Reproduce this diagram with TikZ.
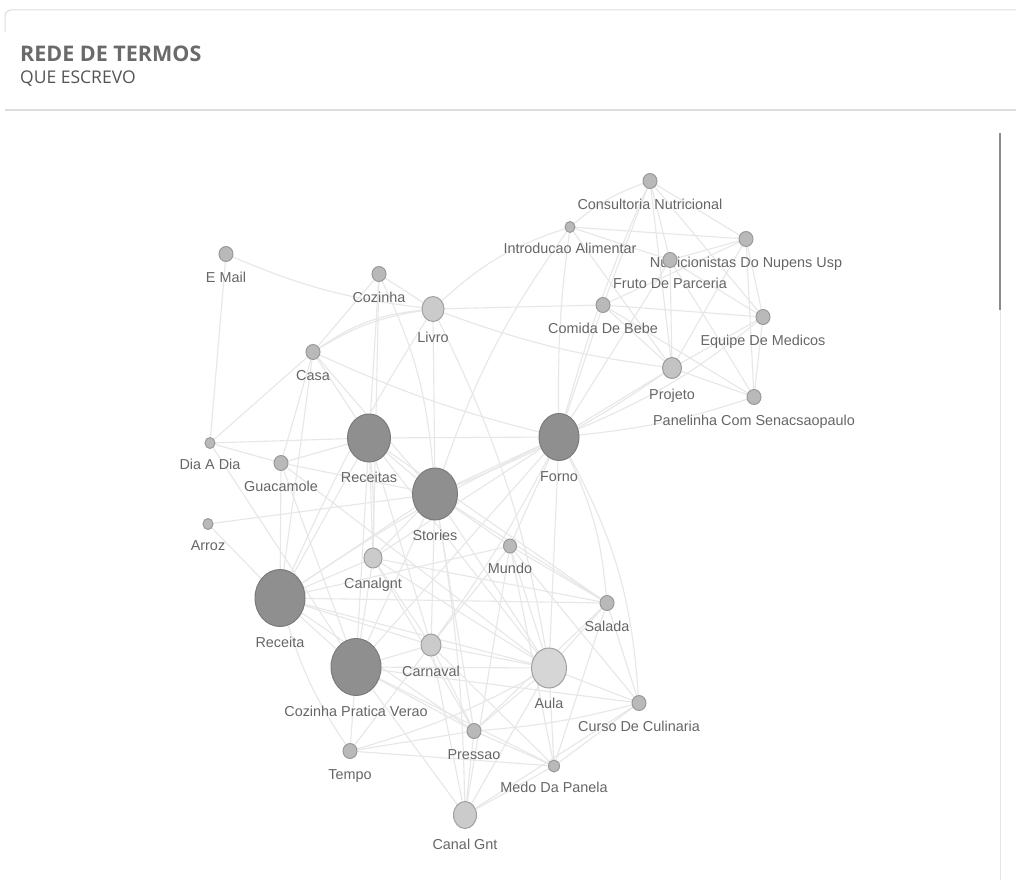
\documentclass[tikz,border=0pt]{standalone}
\usepackage{fontspec}
\setmainfont{Liberation Sans}
\newfontfamily\labfont{Liberation Sans}
\newfontfamily\headfont{Open Sans}
\usetikzlibrary{shapes.geometric,backgrounds}
\pgfdeclarelayer{bottomlayer}
\pgfsetlayers{bottomlayer,background,main}
\definecolor{smfill}{HTML}{B9B9B9}
\definecolor{smdraw}{HTML}{999999}
\definecolor{bigfill}{HTML}{8F8F8F}
\definecolor{bigdraw}{HTML}{7A7A7A}
\definecolor{ltfill}{HTML}{CBCBCB}
\definecolor{ltdraw}{HTML}{A0A0A0}
\definecolor{aulafill}{HTML}{D6D6D6}
\definecolor{labgray}{HTML}{666666}
\definecolor{edgec}{HTML}{E7E7E7}
\definecolor{headline}{HTML}{DDDDDD}
\definecolor{titlec}{HTML}{6A6A6A}
\definecolor{subc}{HTML}{555555}
\tikzset{
  lab/.style={font=\labfont\fontsize{14.4}{16}\selectfont, text=labgray, inner sep=0pt, text height=10pt, text depth=3pt},
  nd/.style={ellipse, inner sep=0pt, line width=1pt},
  sm/.style={nd, fill=smfill, draw=smdraw, minimum width=14pt, minimum height=15pt},
  xs/.style={nd, fill=smfill, draw=smdraw, minimum width=10pt, minimum height=11pt},
  big/.style={nd, fill=bigfill, draw=bigdraw},
  lt/.style={nd, fill=ltfill, draw=ltdraw},
  lb/.style={label={[lab,label distance=10pt]below:#1}},
  link/.style={draw=edgec, line width=1.1pt}
}
\begin{document}
\begin{tikzpicture}[x=1pt,y=-1pt]
\useasboundingbox (0,0) rectangle (1016,888);
\begin{pgfonlayer}{bottomlayer}
\fill[white] (0,0) rectangle (1016,888);
\end{pgfonlayer}
% header
\draw[headline, line width=1pt, rounded corners=6pt] (5,32) -- (5,10) -- (1016,10);
\draw[headline, line width=1.6pt] (5,110) -- (1016,110);
\node[anchor=base west, inner sep=0pt, text=titlec, font=\headfont\bfseries\fontsize{21.5}{24}\selectfont] (title) at (20,62) {REDE DE TERMOS};
\node[anchor=base west, inner sep=0pt, text=subc, font=\headfont\fontsize{17.5}{20}\selectfont] (subtitle) at (20,84) {QUE ESCREVO};
% scrollbar
\draw[color=black!45, line width=1.2pt] (1000,133) -- (1000,310);
\draw[color=black!10, line width=1pt] (1000,310) -- (1000,880);
% nodes
\node[sm, lb={Consultoria Nutricional}] (consult) at (650,181) {};
\node[xs, lb={Introducao Alimentar}] (intro) at (570,227) {};
\node[sm, lb={Nutricionistas Do Nupens Usp}] (nutri) at (746,239) {};
\node[sm, lb={Fruto De Parceria}] (fruto) at (670,260) {};
\node[sm, lb={Comida De Bebe}] (comida) at (603,305) {};
\node[sm, lb={Equipe De Medicos}] (equipe) at (763,317) {};
\node[nd, fill=smfill!85!white, draw=smdraw, minimum width=19pt, minimum height=21pt, lb={Projeto}] (projeto) at (672,368) {};
\node[sm, lb={Panelinha Com Senacsaopaulo}] (panelinha) at (754,397) {};
\node[sm, lb={E Mail}] (email) at (226,254) {};
\node[sm, lb={Cozinha}] (cozinha) at (379,274) {};
\node[lt, minimum width=22pt, minimum height=25pt, lb={Livro}] (livro) at (433,309) {};
\node[sm, lb={Casa}] (casa) at (313,352) {};
\node[xs, lb={Dia A Dia}] (diadia) at (210,443) {};
\node[sm, lb={Guacamole}] (guacamole) at (281,463) {};
\node[big, minimum width=43pt, minimum height=48pt, lb={Receitas}] (receitas) at (369,438) {};
\node[big, minimum width=45pt, minimum height=52pt, lb={Stories}] (stories) at (435,494) {};
\node[xs, lb={Arroz}] (arroz) at (208,524) {};
\node[lt, minimum width=18pt, minimum height=20pt, lb={Canalgnt}] (canalgnt) at (373,558) {};
\node[sm, minimum width=13pt, minimum height=14pt, lb={Mundo}] (mundo) at (510,546) {};
\node[big, minimum width=50pt, minimum height=57pt, lb={Receita}] (receita) at (280,598) {};
\node[big, minimum width=40pt, minimum height=47pt, lb={Forno}] (forno) at (559,437) {};
\node[sm, lb={Salada}] (salada) at (607,603) {};
\node[big, minimum width=50pt, minimum height=57pt, lb={Cozinha Pratica Verao}] (cpv) at (356,667) {};
\node[lt, minimum width=20pt, minimum height=22pt, lb={Carnaval}] (carnaval) at (431,645) {};
\node[nd, fill=aulafill, draw=ltdraw, minimum width=35pt, minimum height=40pt, lb={Aula}] (aula) at (549,668) {};
\node[sm, lb={Curso De Culinaria}] (curso) at (639,703) {};
\node[sm, lb={Pressao}] (pressao) at (474,731) {};
\node[sm, lb={Tempo}] (tempo) at (350,751) {};
\node[xs, minimum width=11pt, minimum height=12pt, lb={Medo Da Panela}] (medo) at (554,766) {};
\node[lt, minimum width=23pt, minimum height=27pt, lb={Canal Gnt}] (canalgnt2) at (465,815) {};
% edges
\begin{pgfonlayer}{background}
\path[link] (email) to[bend right=8] (livro);
\path[link] (email) -- (diadia);
\path[link] (casa) to[bend left=14] (livro);
\path[link] (casa) to[bend left=11] (livro);
\path[link] (casa) -- (cozinha);
\path[link] (casa) -- (diadia);
\path[link] (casa) -- (guacamole);
\path[link] (casa) -- (receita);
\path[link] (casa) -- (receitas);
\path[link] (casa) to[bend right=5] (forno);
\path[link] (casa) -- (stories);
\path[link] (cozinha) -- (receitas);
\path[link] (cozinha) -- (canalgnt);
\path[link] (cozinha) to[bend left=10] (stories);
\path[link] (cozinha) -- (livro);
\path[link] (livro) -- (comida);
\path[link] (comida) -- (equipe);
\path[link] (livro) to[bend left=12] (intro);
\path[link] (livro) -- (stories);
\path[link] (livro) to[bend right=6] (projeto);
\path[link] (livro) to[bend right=4] (receita);
\path[link] (livro) to[bend left=8] (aula);
\path[link] (intro) -- (nutri);
\path[link] (intro) -- (fruto);
\path[link] (intro) -- (projeto);
\path[link] (intro) to[bend right=4] (forno);
\path[link] (intro) to[bend left=10] (consult);
\path[link] (intro) to[bend right=8] (stories);
\path[link] (consult) -- (nutri);
\path[link] (consult) -- (fruto);
\path[link] (consult) -- (projeto);
\path[link] (consult) -- (equipe);
\path[link] (consult) to[bend right=4] (forno);
\path[link] (consult) -- (comida);
\path[link] (nutri) -- (equipe);
\path[link] (nutri) -- (panelinha);
\path[link] (nutri) -- (comida);
\path[link] (nutri) -- (projeto);
\path[link] (nutri) -- (fruto);
\path[link] (fruto) -- (projeto);
\path[link] (fruto) -- (forno);
\path[link] (fruto) -- (panelinha);
\path[link] (fruto) -- (equipe);
\path[link] (comida) -- (projeto);
\path[link] (comida) -- (forno);
\path[link] (comida) -- (panelinha);
\path[link] (equipe) -- (projeto);
\path[link] (equipe) -- (panelinha);
\path[link] (equipe) to[bend left=8] (forno);
\path[link] (projeto) -- (panelinha);
\path[link] (projeto) -- (forno);
\path[link] (projeto) to[bend left=6] (stories);
\path[link] (panelinha) to[bend left=6] (forno);
\path[link] (forno) -- (mundo);
\path[link] (forno) -- (aula);
\path[link] (forno) to[bend left=10] (salada);
\path[link] (forno) to[bend left=12] (curso);
\path[link] (forno) -- (receitas);
\path[link] (forno) -- (stories);
\path[link] (forno) to[bend right=4] (receita);
\path[link] (forno) -- (cpv);
\path[link] (forno) -- (canalgnt);
\path[link] (forno) to[bend left=4] (carnaval);
\path[link] (receitas) -- (stories);
\path[link] (receitas) -- (canalgnt);
\path[link] (receitas) to[bend left=3] (canalgnt);
\path[link] (receitas) -- (guacamole);
\path[link] (receitas) -- (diadia);
\path[link] (receitas) -- (carnaval);
\path[link] (receitas) -- (aula);
\path[link] (receitas) -- (cpv);
\path[link] (receitas) -- (receita);
\path[link] (receitas) -- (salada);
\path[link] (stories) -- (arroz);
\path[link] (stories) -- (canalgnt);
\path[link] (stories) -- (mundo);
\path[link] (stories) -- (receita);
\path[link] (stories) -- (cpv);
\path[link] (stories) -- (carnaval);
\path[link] (stories) -- (aula);
\path[link] (stories) -- (pressao);
\path[link] (stories) to[bend left=4] (canalgnt2);
\path[link] (stories) -- (salada);
\path[link] (stories) -- (guacamole);
\path[link] (diadia) -- (guacamole);
\path[link] (diadia) -- (cpv);
\path[link] (guacamole) -- (receita);
\path[link] (guacamole) -- (cpv);
\path[link] (guacamole) -- (aula);
\path[link] (arroz) -- (receita);
\path[link] (canalgnt) -- (salada);
\path[link] (canalgnt) -- (carnaval);
\path[link] (canalgnt) -- (aula);
\path[link] (canalgnt) -- (pressao);
\path[link] (canalgnt) -- (cpv);
\path[link] (mundo) -- (carnaval);
\path[link] (mundo) -- (salada);
\path[link] (mundo) -- (aula);
\path[link] (mundo) -- (medo);
\path[link] (mundo) -- (canalgnt2);
\path[link] (mundo) -- (curso);
\path[link] (receita) -- (salada);
\path[link] (receita) -- (carnaval);
\path[link] (receita) -- (cpv);
\path[link] (receita) -- (canalgnt);
\path[link] (receita) -- (pressao);
\path[link] (receita) to[bend right=8] (tempo);
\path[link] (receita) -- (aula);
\path[link] (receita) -- (mundo);
\path[link] (salada) -- (aula);
\path[link] (salada) -- (curso);
\path[link] (salada) -- (medo);
\path[link] (salada) -- (pressao);
\path[link] (cpv) -- (carnaval);
\path[link] (cpv) -- (aula);
\path[link] (cpv) -- (tempo);
\path[link] (cpv) -- (pressao);
\path[link] (cpv) -- (canalgnt2);
\path[link] (cpv) -- (medo);
\path[link] (cpv) -- (curso);
\path[link] (carnaval) -- (aula);
\path[link] (carnaval) -- (pressao);
\path[link] (carnaval) -- (canalgnt2);
\path[link] (carnaval) -- (medo);
\path[link] (carnaval) -- (tempo);
\path[link] (aula) -- (curso);
\path[link] (aula) -- (medo);
\path[link] (aula) -- (pressao);
\path[link] (aula) -- (canalgnt2);
\path[link] (aula) to[bend left=6] (tempo);
\path[link] (curso) -- (medo);
\path[link] (curso) to[bend left=5] (pressao);
\path[link] (curso) -- (canalgnt2);
\path[link] (pressao) -- (medo);
\path[link] (pressao) -- (tempo);
\path[link] (pressao) -- (canalgnt2);
\path[link] (tempo) -- (medo);
\path[link] (medo) -- (canalgnt2);
\end{pgfonlayer}
\end{tikzpicture}
\end{document}
